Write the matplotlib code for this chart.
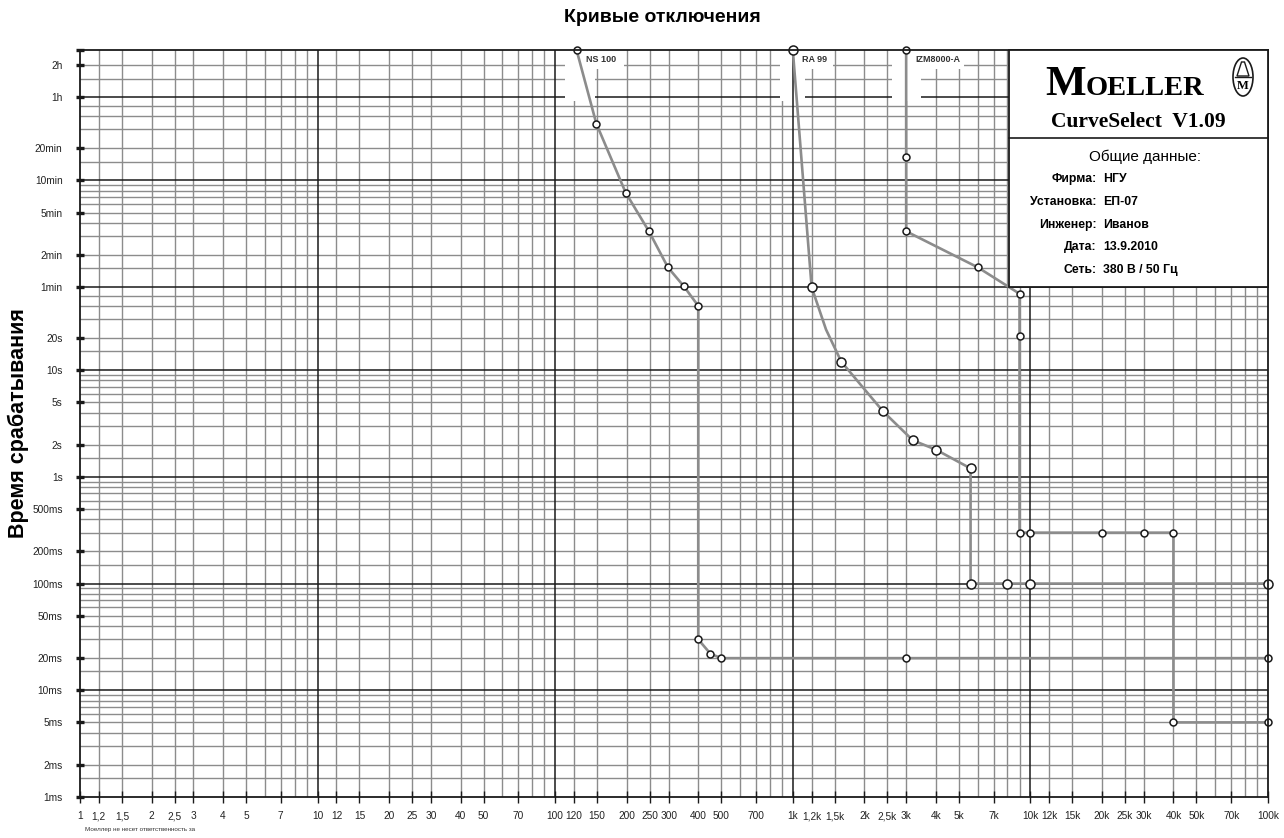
import matplotlib
matplotlib.use('Agg')
import matplotlib.pyplot as plt
from matplotlib.patches import Rectangle, Ellipse, Polygon
from matplotlib.lines import Line2D

plt.rcParams['font.family'] = ['Liberation Sans', 'DejaVu Sans']

# tripping characteristics (current in A, time in s)
ns100_I = [123, 149, 198, 248, 298, 348, 400, 400, 450, 500, 3000, 100000]
ns100_t = [10000, 2040, 460, 200, 92, 61, 40, 0.030, 0.022, 0.020, 0.020, 0.020]

# the 1380 A / 24 s point lies on the bend of the curve and carries no marker
ra99_I = [1000, 1200, 1380, 1600, 2400, 3200, 4000, 5600, 5600, 8000, 10000, 100000]
ra99_t = [10000, 60, 24, 12, 4.1, 2.2, 1.8, 1.2, 0.1, 0.1, 0.1, 0.1]
ra99_marked = [0, 1, 3, 4, 5, 6, 7, 8, 9, 10, 11]

izm_I = [3000, 3000, 3000, 6000, 9000, 9000, 9000, 10000, 20000, 30000, 40000, 40000, 100000]
izm_t = [10000, 1000, 200, 92, 52, 21, 0.3, 0.3, 0.3, 0.3, 0.3, 0.005, 0.005]

device_names = ['NS 100', 'RA 99', 'IZM8000-A']

x_ticks = [1, 1.2, 1.5, 2, 2.5, 3, 4, 5, 7,
           10, 12, 15, 20, 25, 30, 40, 50, 70,
           100, 120, 150, 200, 250, 300, 400, 500, 700,
           1000, 1200, 1500, 2000, 2500, 3000, 4000, 5000, 7000,
           10000, 12000, 15000, 20000, 25000, 30000, 40000, 50000, 70000, 100000]
x_labels = ['1', '1,2', '1,5', '2', '2,5', '3', '4', '5', '7',
            '10', '12', '15', '20', '25', '30', '40', '50', '70',
            '100', '120', '150', '200', '250', '300', '400', '500', '700',
            '1k', '1,2k', '1,5k', '2k', '2,5k', '3k', '4k', '5k', '7k',
            '10k', '12k', '15k', '20k', '25k', '30k', '40k', '50k', '70k', '100k']

y_ticks = [0.001, 0.002, 0.005, 0.01, 0.02, 0.05, 0.1, 0.2, 0.5, 1, 2, 5, 10, 20,
           60, 120, 300, 600, 1200, 3600, 7200, 10000]
y_labels = ['1ms', '2ms', '5ms', '10ms', '20ms', '50ms', '100ms', '200ms', '500ms',
            '1s', '2s', '5s', '10s', '20s', '1min', '2min', '5min', '10min', '20min',
            '1h', '2h', '']

info_keys = ['Фирма:', 'Установка:', 'Инженер:', 'Дата:', 'Сеть:']
info_vals = ['НГУ', 'ЕП-07', 'Иванов', '13.9.2010', '380 В / 50 Гц']

W, H = 1284, 838
fig = plt.figure(figsize=(W / 100, H / 100), dpi=100)
ax = fig.add_axes([80 / W, 1 - 797 / H, 1188 / W, 747 / H])
ax.set_xscale('log')
ax.set_yscale('log')
ax.set_xlim(1, 100000)
ax.set_ylim(0.001, 10000)

GRAY = '#8c8c8c'
BLACK = '#1a1a1a'

# grid: current axis
v_mult = [1, 1.2, 1.5, 2, 2.5, 3, 4, 5, 6, 7, 8, 9]
for dec in [1, 10, 100, 1000, 10000]:
    for m in v_mult[1:]:
        ax.axvline(dec * m, color=GRAY, lw=1.0, zorder=1)
for dec in [10, 100, 1000, 10000]:
    ax.axvline(dec, color=BLACK, lw=1.1, zorder=2.5)

# grid: time axis (ms / s / min / h steps)
t_mult = [1.5, 2, 3, 4, 5, 6, 7, 8, 9]
h_minor = []
for base in [0.001, 0.01, 0.1, 1, 60]:
    h_minor += [base * m for m in t_mult]
h_minor += [15, 20, 30, 40, 50]
h_minor += [900, 1200, 1800, 2400, 3000]
h_minor += [5400, 7200]
for t in h_minor:
    ax.axhline(t, color=GRAY, lw=1.0, zorder=1)
for t in [0.01, 0.1, 1, 10, 60, 600, 3600]:
    ax.axhline(t, color=BLACK, lw=1.1, zorder=1.2)

for s in ax.spines.values():
    s.set_color(BLACK)
    s.set_linewidth(1.3)
    s.set_zorder(6)

# white gaps around the device labels at the top
label_specs = [
    (ns100_I[0], 0.89, 1.19, 1.10, 1.59),
    (ra99_I[0], 0.88, 1.13, 1.09, 1.47),
    (izm_I[0], 0.87, 1.15, 1.09, 1.75),
]
for name, (x0, bl, br, tx, lr) in zip(device_names, label_specs):
    ax.add_patch(Rectangle((x0 * bl, 3300), x0 * (br - bl), 6700,
                           facecolor='white', edgecolor='none', zorder=2))
    ax.add_patch(Rectangle((x0, 6700), x0 * (lr - 1), 3300,
                           facecolor='white', edgecolor='none', zorder=2))
    ax.text(x0 * tx, 8070, name, fontsize=6.5, fontweight='bold', color='#333333',
            va='center', ha='left', zorder=3)

# curves
curve_kw = dict(color=GRAY, lw=1.9, marker='o', markerfacecolor='white',
                markeredgecolor=BLACK, markeredgewidth=1.1, clip_on=False, zorder=5)
ax.plot(ns100_I, ns100_t, markersize=5, **curve_kw)
ax.plot(izm_I, izm_t, markersize=5, **curve_kw)
ax.plot(ra99_I, ra99_t, markersize=6.5, markevery=ra99_marked, **curve_kw)

# ticks
ax.set_xticks(x_ticks)
ax.set_xticklabels(x_labels)
ax.set_yticks(y_ticks)
ax.set_yticklabels(y_labels)
ax.minorticks_off()
ax.tick_params(axis='x', direction='inout', length=8, width=1.0, pad=12,
               labelsize=7.3, labelcolor='#222222', color=BLACK)
ax.tick_params(axis='y', direction='inout', length=6, width=2.4, pad=9.5,
               labelsize=7.3, labelcolor='#222222', color=BLACK)
for lbl in ax.get_xticklabels():
    lbl.set_verticalalignment('baseline')

# titles
fig.text(662 / W, 1 - 18 / H, 'Кривые отключения', fontsize=14, fontweight='bold',
         ha='center', va='center')
fig.text(18 / W, 1 - 423 / H, 'Время срабатывания', fontsize=15.5, fontweight='bold',
         ha='center', va='center', rotation=90)
fig.text(85 / W, 1 - 829 / H, 'Моеллер не несет ответственность за', fontsize=4.5,
         color='#333333', va='center')

# header box
bx0, by0, bx1, by1 = 1009, 50, 1268, 287
fig.add_artist(Rectangle((bx0 / W, 1 - by1 / H), (bx1 - bx0) / W, (by1 - by0) / H,
                         transform=fig.transFigure, facecolor='white',
                         edgecolor=BLACK, lw=1.3))
fig.add_artist(Line2D([bx0 / W, bx1 / W], [1 - 138 / H, 1 - 138 / H],
                      transform=fig.transFigure, color=BLACK, lw=1.2))

serif = ['Liberation Serif', 'DejaVu Serif']
m_txt = fig.text(1045 / W, 1 - 95 / H, 'M', fontsize=31, fontweight='bold',
                 family=serif, va='baseline')
fig.canvas.draw()
bb = m_txt.get_window_extent(fig.canvas.get_renderer())
fig.text(bb.x1 / W, 1 - 95 / H, 'OELLER', fontsize=20.5, fontweight='bold',
         family=serif, va='baseline')

# bell logo
cx, cy = 1243, 77
fig.add_artist(Ellipse((cx / W, 1 - cy / H), 20 / W, 38 / H, transform=fig.transFigure,
                       facecolor='white', edgecolor=BLACK, lw=1.2))
fig.add_artist(Polygon([((cx - 1.5) / W, 1 - 62 / H), ((cx + 1.5) / W, 1 - 62 / H),
                        ((cx + 6) / W, 1 - 76 / H), ((cx - 6) / W, 1 - 76 / H)],
                       closed=True, transform=fig.transFigure, facecolor='none',
                       edgecolor=BLACK, lw=1.0))
fig.add_artist(Line2D([(cx - 8) / W, (cx + 8) / W], [1 - 77 / H, 1 - 77 / H],
                      transform=fig.transFigure, color=BLACK, lw=1.0))
fig.text(cx / W, 1 - 86 / H, 'M', fontsize=9, fontweight='bold', family=serif,
         ha='center', va='center')

fig.text(1138 / W, 1 - 122 / H, 'CurveSelect  V1.09', fontsize=15.5, fontweight='bold',
         family=serif, ha='center', va='center')
fig.text(1145 / W, 1 - 157 / H, 'Общие данные:', fontsize=11, ha='center', va='center')
for i, (k, v) in enumerate(zip(info_keys, info_vals)):
    yy = 1 - (179 + i * 22.8) / H
    fig.text(1097 / W, yy, k, fontsize=8.8, fontweight='bold', ha='right', va='center')
    fig.text(1103 / W, yy, v, fontsize=8.8, fontweight='bold', ha='left', va='center')

fig.savefig('out.png', dpi=100)
